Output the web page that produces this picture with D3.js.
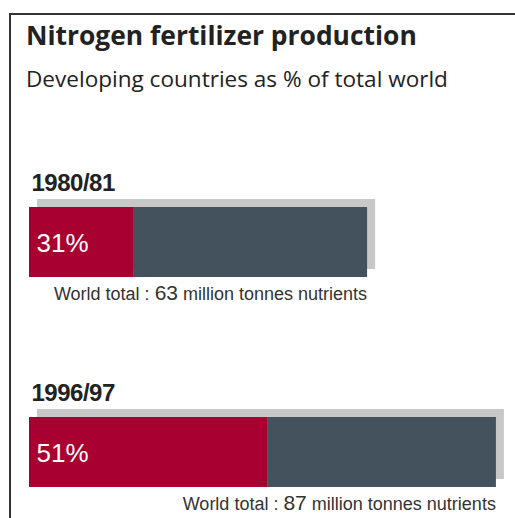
<!DOCTYPE html>
<html>
<head>
<meta charset="utf-8">
<script src="https://cdn.jsdelivr.net/npm/d3@7"></script>
<style>
  body { margin: 0; background: #fff; }
</style>
</head>
<body>
<svg id="chart" width="515" height="518"></svg>
<script>
// data
const years = ["1980/81", "1996/97"];
const developingShare = [31, 51];     // % of world total
const worldTotal = [63, 87];          // million tonnes nutrients

const svg = d3.select("#chart");
const barHeight = 70;

const rows = years.map((year, i) => ({
  year,
  share: developingShare[i],
  total: worldTotal[i]
}));

// bar length is proportional to the world total
const x = d3.scaleLinear().domain([0, 90]).range([29, 512]);
const y = d3.scalePoint().domain(years).range([207, 417]);

// frame (open on the right and bottom)
svg.append("path")
  .attr("d", "M10,518V14H515")
  .attr("fill", "none")
  .attr("stroke", "#333")
  .attr("stroke-width", 2);

const title = svg.append("text")
  .attr("x", 26)
  .attr("y", 45)
  .attr("font-family", "'Open Sans', Lato, sans-serif")
  .attr("font-weight", "bold")
  .attr("font-size", 24)
  .attr("fill", "#222")
  .text("Nitrogen fertilizer production");

const subtitle = svg.append("text")
  .attr("x", 26)
  .attr("y", 87)
  .attr("font-family", "'Open Sans', Lato, sans-serif")
  .attr("font-size", 22)
  .attr("fill", "#222")
  .text("Developing countries as % of total world");

// nudge the heading sizes so they span the same width as in the original
[[title, 391], [subtitle, 422]].forEach(([t, w]) => {
  const len = t.node().getComputedTextLength();
  t.attr("font-size", +t.attr("font-size") * w / len);
});

const g = svg.selectAll("g.row")
  .data(rows)
  .join("g")
  .attr("class", "row");

//grey shadow behind each bar
g.append("rect")
  .attr("x", d => x(0) + 8)
  .attr("y", d => y(d.year) - 8)
  .attr("width", d => x(d.total) - x(0))
  .attr("height", barHeight)
  .attr("fill", "#c8c8c8");

g.append("rect")
  .attr("x", d => x(d.total * d.share / 100))
  .attr("y", d => y(d.year))
  .attr("width", d => x(d.total) - x(d.total * d.share / 100))
  .attr("height", barHeight)
  .attr("fill", "#43525c");

g.append("rect")
  .attr("x", x(0))
  .attr("y", d => y(d.year))
  .attr("width", d => x(d.total * d.share / 100) - x(0))
  .attr("height", barHeight)
  .attr("fill", "#a80031");

g.append("text")
  .attr("x", 31.5)
  .attr("y", d => y(d.year) - 16)
  .attr("font-family", "'Liberation Sans', Arial, sans-serif")
  .attr("font-weight", "bold")
  .attr("font-size", 24)
  .attr("letter-spacing", -0.5)
  .attr("fill", "#222")
  .text(d => d.year);

g.append("text")
  .attr("x", 36.5)
  .attr("y", d => y(d.year) + 45)
  .attr("font-family", "'Liberation Sans', Arial, sans-serif")
  .attr("font-size", 26)
  .attr("fill", "#fff")
  .text(d => d.share + "%");

const note = g.append("text")
  .attr("x", d => x(d.total))
  .attr("y", d => y(d.year) + barHeight + 23)
  .attr("text-anchor", "end")
  .attr("font-family", "'Liberation Sans', Arial, sans-serif")
  .attr("fill", "#333");

note.append("tspan").attr("font-size", 18).text("World total : ");
note.append("tspan").attr("font-size", 21).text(d => d.total);
note.append("tspan").attr("font-size", 18).text(" million tonnes nutrients");
</script>
</body>
</html>
